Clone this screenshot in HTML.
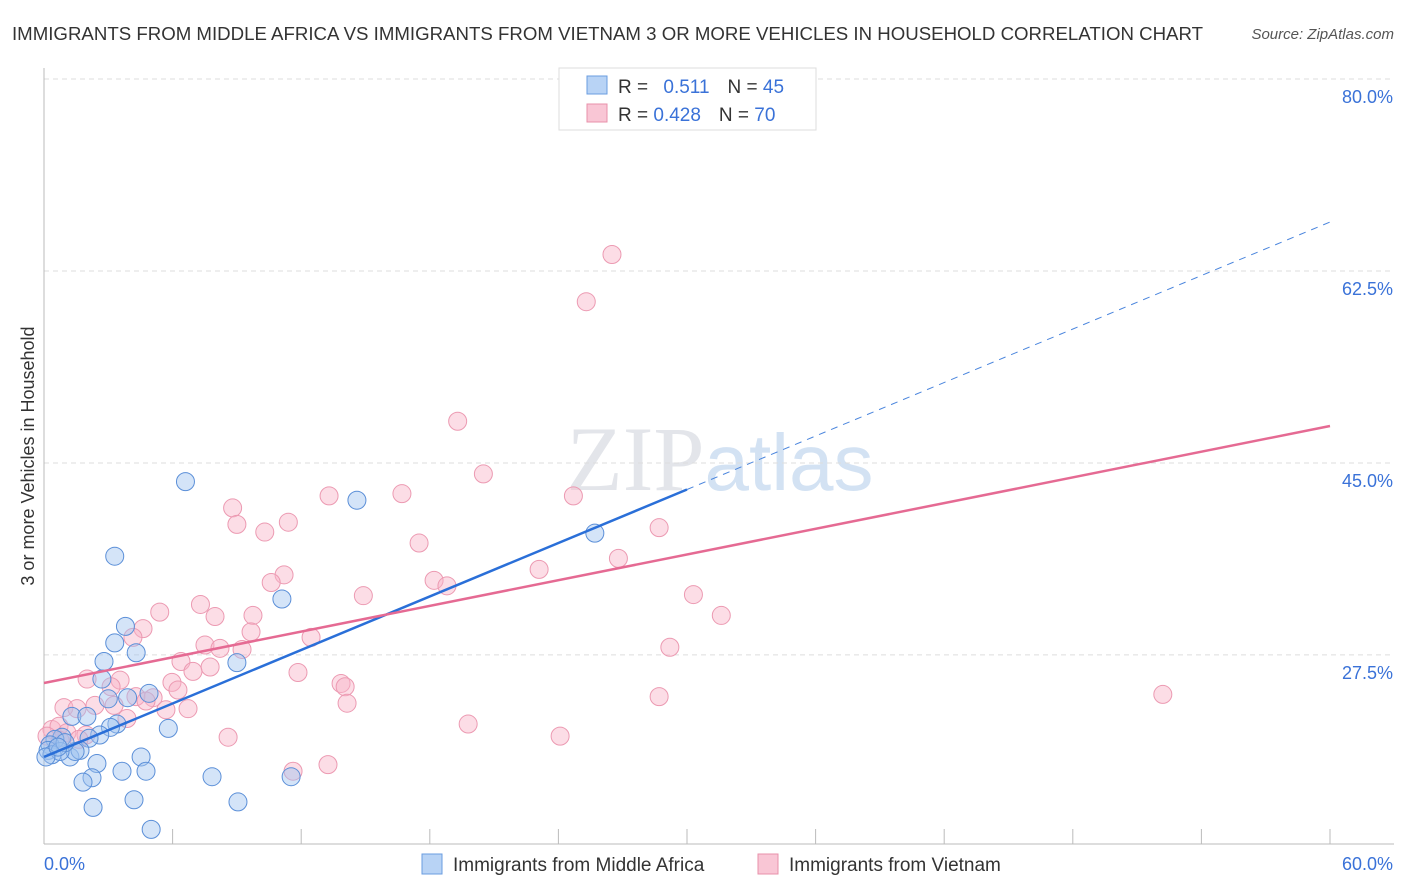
<!DOCTYPE html>
<html><head><meta charset="utf-8"><style>
body{margin:0;background:#fff;font-family:"Liberation Sans",sans-serif}
</style></head><body>
<svg id="c" width="1406" height="892" style="display:block">
<text x="12" y="40" font-size="18" fill="#333" textLength="1191" lengthAdjust="spacingAndGlyphs">IMMIGRANTS FROM MIDDLE AFRICA VS IMMIGRANTS FROM VIETNAM 3 OR MORE VEHICLES IN HOUSEHOLD CORRELATION CHART</text>
<text x="1394" y="39" font-size="15" fill="#555" font-style="italic" text-anchor="end">Source: ZipAtlas.com</text>
<text x="720" y="490" font-size="92" fill="#e3e5ea" text-anchor="middle" font-family="Liberation Serif">ZIP<tspan fill="#d3e2f3" font-family="Liberation Sans" font-size="80">atlas</tspan></text>
<text transform="translate(34,456) rotate(-90)" font-size="18" fill="#333" text-anchor="middle">3 or more Vehicles in Household</text>
<g id="grid"></g><g id="pts"></g><g id="lines"></g>
<g>
<rect x="559" y="68" width="257" height="62" fill="#fff" stroke="#ddd"/>
<rect x="587" y="76" width="20" height="18" fill="#b8d3f5" stroke="#6a9de0"/>
<rect x="587" y="104" width="20" height="18" fill="#f9c6d5" stroke="#e890aa"/>
<text x="618" y="93" font-size="19" fill="#333">R = <tspan fill="#3a72d8" dx="10">0.511</tspan><tspan dx="18" fill="#333">N = </tspan><tspan fill="#3a72d8">45</tspan></text>
<text x="618" y="121" font-size="19" fill="#333">R = <tspan fill="#3a72d8">0.428</tspan><tspan dx="18" fill="#333">N = </tspan><tspan fill="#3a72d8">70</tspan></text>
</g>
<g>
<rect x="422" y="854" width="20" height="20" fill="#b8d3f5" stroke="#6a9de0"/>
<text x="453" y="871" font-size="19" fill="#333">Immigrants from Middle Africa</text>
<rect x="758" y="854" width="20" height="20" fill="#f9c6d5" stroke="#e890aa"/>
<text x="789" y="871" font-size="19" fill="#333">Immigrants from Vietnam</text>
</g>
</svg>
<script>
const xTicks=[0,6,12,18,24,30,36,42,48,54,60];
const yTicks=[27.5,45,62.5,80];
const yTickLabels=["27.5%","45.0%","62.5%","80.0%"];
const blueX=[6.6,3.3,14.6,25.7,11.1,3.8,3.3,4.3,2.8,9.0,2.7,3.0,3.9,4.9,1.3,2.0,3.4,3.1,5.8,2.6,2.1,0.84,0.51,0.28,0.19,0.37,1.21,1.68,1.45,0.75,0.09,2.47,4.53,3.64,4.76,7.84,11.53,2.24,1.82,4.2,9.05,2.29,5.0,0.98,0.65];
const blueY=[43.3,36.5,41.6,38.6,32.6,30.1,28.6,27.7,26.9,26.8,25.3,23.5,23.6,24.0,21.9,21.9,21.2,20.9,20.8,20.2,19.9,20.0,19.8,19.3,18.8,18.4,18.2,18.8,18.7,18.7,18.2,17.6,18.2,16.9,16.9,16.4,16.4,16.3,15.9,14.3,14.1,13.6,11.6,19.5,19.1];
const pinkX=[26.5,25.3,19.3,20.5,13.3,16.7,24.7,8.8,9.0,10.3,11.4,28.7,17.5,26.8,23.1,11.2,10.6,18.2,18.8,14.9,30.3,7.3,5.4,7.98,9.75,31.6,4.62,4.15,9.66,12.46,7.51,8.21,9.24,29.2,6.39,7.75,6.95,11.85,2.01,5.97,3.55,3.13,13.86,14.05,6.25,4.29,5.09,28.7,52.2,4.76,14.14,2.38,3.27,0.93,1.54,5.69,6.72,3.87,19.79,0.37,0.7,1.07,1.96,0.14,24.08,8.59,1.63,11.62,13.25,0.75];
const pinkY=[64.0,59.7,48.8,44.0,42.0,42.2,42.0,40.9,39.4,38.7,39.6,39.1,37.7,36.3,35.3,34.8,34.1,34.3,33.8,32.9,33.0,32.1,31.4,31.0,31.1,31.1,29.9,29.1,29.6,29.1,28.4,28.1,28.0,28.2,26.9,26.4,26.0,25.9,25.3,25.0,25.2,24.6,24.9,24.6,24.3,23.7,23.6,23.7,23.9,23.3,23.1,22.9,22.9,22.7,22.6,22.5,22.6,21.7,21.2,20.7,21.0,20.4,20.2,20.1,20.1,20.0,19.8,16.9,17.5,19.7];
const blueLine=[18.2,66.96], blueSolidEnd=30;
const pinkLine=[24.94,48.37];
const X=v=>44+v*1286/60, Y=v=>79+(80-v)*10.97;
const NS="http://www.w3.org/2000/svg";
function mk(t,a,p){const e=document.createElementNS(NS,t);for(const k in a)e.setAttribute(k,a[k]);p.appendChild(e);return e;}
const grid=document.getElementById('grid'),svg=document.getElementById('c');
yTicks.forEach((t,i)=>{
 const l=mk('line',{x1:44,x2:1394,y1:Y(t),y2:Y(t),stroke:'#ddd','stroke-dasharray':'5,4'},grid);
 
 
 const tx=mk('text',{x:1393,y:Y(t)+24,'font-size':18,fill:'#3a72d8','text-anchor':'end'},grid);
 tx.textContent=yTickLabels[i];
 
 
});
mk('line',{x1:44,x2:44,y1:68,y2:844,stroke:'#bbb'},grid);
mk('line',{x1:44,x2:1394,y1:844,y2:844,stroke:'#bbb'},grid);
xTicks.forEach(t=>{const l=mk('line',{x1:X(t),x2:X(t),y1:829,y2:844,stroke:'#bbb'},grid);
 
 });
const x0=mk('text',{x:44,y:870,'font-size':18,fill:'#3a72d8'},grid);x0.textContent='0.0%';


const x1=mk('text',{x:1393,y:870,'font-size':18,fill:'#3a72d8','text-anchor':'end'},grid);x1.textContent='60.0%';


const pts=document.getElementById('pts');
pinkX.forEach((v,i)=>{const c=mk('circle',{cx:X(v),cy:Y(pinkY[i]),r:9,fill:'rgba(248,180,200,0.45)',stroke:'#ec9ab2','stroke-width':1},pts);
 
 });
blueX.forEach((v,i)=>{const c=mk('circle',{cx:X(v),cy:Y(blueY[i]),r:9,fill:'rgba(160,195,240,0.45)',stroke:'#5b8fd8','stroke-width':1},pts);
 
 });
const lines=document.getElementById('lines');
const bAt=x=>blueLine[0]+(blueLine[1]-blueLine[0])*x/60, pAt=x=>pinkLine[0]+(pinkLine[1]-pinkLine[0])*x/60;
let l1=mk('line',{x1:X(0),y1:Y(bAt(0)),x2:X(blueSolidEnd),y2:Y(bAt(blueSolidEnd)),stroke:'#2a6fd8','stroke-width':2.5},lines);


let l2=mk('line',{x1:X(blueSolidEnd),y1:Y(bAt(blueSolidEnd)),x2:X(60),y2:Y(bAt(60)),stroke:'#4a85dd','stroke-width':1,'stroke-dasharray':'7,6'},lines);


let l3=mk('line',{x1:X(0),y1:Y(pAt(0)),x2:X(60),y2:Y(pAt(60)),stroke:'#e56a93','stroke-width':2.5},lines);


</script>
</body></html>
